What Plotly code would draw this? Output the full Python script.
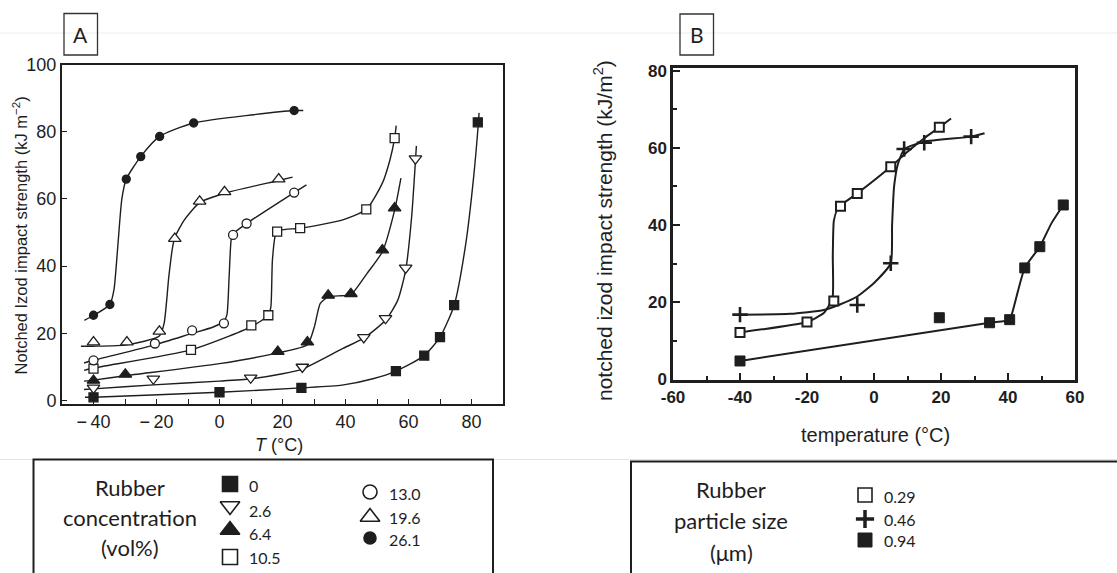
import plotly.graph_objects as go

W, H = 1117, 573

# ---------------- Panel A : rubber concentration (vol%) ----------------
A_labels = ["0", "2.6", "6.4", "10.5", "13.0", "19.6", "26.1"]

# measured points
A_x_00 = [-40, 0, 26, 56, 65, 70, 74.5, 82]
A_y_00 = [1.0, 2.5, 3.8, 8.8, 13.4, 18.9, 28.4, 82.8]
A_x_26 = [-40, -21, 9.9, 26.3, 45.8, 52.7, 59.1, 62.2]
A_y_26 = [3.8, 6.5, 6.8, 10.0, 18.8, 24.5, 39.5, 72.0]
A_x_64 = [-40, -29.9, 18.5, 27.9, 34.5, 41.7, 51.7, 55.6]
A_y_64 = [6.0, 7.8, 14.6, 17.4, 31.3, 31.8, 44.8, 57.3]
A_x_105 = [-40, -9.05, 10.1, 15.5, 18.3, 25.6, 46.6, 55.6]
A_y_105 = [9.5, 15.1, 22.4, 25.4, 50.3, 51.3, 56.9, 78.1]
A_x_130 = [-40, -20.5, -8.7, 1.4, 4.3, 8.6, 23.7]
A_y_130 = [12.0, 17.0, 20.9, 23.0, 49.3, 52.7, 61.9]
A_x_196 = [-40, -29.4, -19.1, -14.2, -6.3, 1.6, 18.8]
A_y_196 = [17.4, 17.4, 20.6, 48.2, 59.3, 62.1, 65.9]
A_x_261 = [-40, -34.8, -29.6, -25, -19, -8.2, 23.7]
A_y_261 = [25.4, 28.6, 65.9, 72.6, 78.6, 82.6, 86.3]

# hand-drawn guide curves
A_cx_00 = [-42.7, -40, 0, 26, 38.9, 48.7, 56, 65, 70, 74.5, 78.2, 80.7, 82.2, 82.4]
A_cy_00 = [1.0, 1.0, 2.5, 3.8, 4.6, 6.5, 8.8, 13.4, 18.9, 28.4, 46.8, 66.7, 82.8, 85.6]
A_cx_26 = [-43, -40, -21, 0, 10, 20, 26.3, 38.9, 45.8, 52.7, 56.6, 59.1, 61.0, 62.2, 62.5]
A_cy_26 = [3.3, 3.5, 4.7, 5.8, 6.5, 8.0, 9.4, 15.4, 18.6, 23.9, 29.9, 38.8, 54.7, 71.2, 75.8]
A_cx_64 = [-43, -40, -29.9, 0, 18.5, 27.9, 30.1, 32.0, 34.5, 38.9, 41.7, 46.8, 51.7, 55.6, 57.6]
A_cy_64 = [5.8, 6.1, 7.4, 11.0, 14.2, 16.6, 21.9, 28.9, 30.9, 31.2, 31.5, 37.8, 44.3, 56.7, 66.2]
A_cx_105 = [-43, -40, -9, 10.1, 15.5, 16.3, 16.8, 17.8, 19.3, 25.6, 38.9, 46.6, 51.7, 54.1, 55.6, 56.1]
A_cy_105 = [9.0, 9.7, 15.1, 22.0, 25.4, 27.9, 41.8, 49.3, 50.7, 51.3, 53.7, 56.9, 64.7, 71.6, 78.1, 81.8]
A_cx_130 = [-43, -40, -20.5, -8.7, -2, 1.4, 2.35, 3.05, 3.7, 4.3, 8.6, 23.7, 27.6]
A_cy_130 = [11.2, 12.0, 16.6, 20.0, 21.9, 23.6, 25.5, 36.8, 47.8, 49.6, 52.7, 61.9, 64.2]
A_cx_196 = [-44, -40, -29.4, -19.1, -17.6, -16.1, -15.0, -14.2, -11.2, -6.3, 1.6, 18.8, 23.2]
A_cy_196 = [16.2, 16.2, 16.6, 19.2, 22.9, 36.8, 45.0, 48.5, 53.7, 58.9, 61.7, 65.5, 66.5]
A_cx_261 = [-42.9, -39.9, -34.8, -33.5, -32.3, -31.0, -29.6, -25, -19, -8.2, 23.7, 26.6]
A_cy_261 = [23.9, 25.4, 28.6, 33.0, 45.8, 60.0, 65.9, 72.6, 78.6, 82.6, 86.3, 86.3]

A_xticks = [-40, -20, 0, 20, 40, 60, 80]
A_xticktext = ["\u2212\u200940", "\u2212\u200920", "0", "20", "40", "60", "80"]
A_yticks = [0, 20, 40, 60, 80, 100]

# ---------------- Panel B : rubber particle size (um) ----------------
B_labels = ["0.29", "0.46", "0.94"]

B_x_029 = [-40, -20, -12, -10, -5, 5, 19.5]
B_y_029 = [12.2, 14.9, 20.3, 44.9, 48.2, 55.1, 65.3]
B_x_046 = [-40, -5, 5, 9, 15, 29]
B_y_046 = [16.8, 19.3, 30.1, 59.7, 61.3, 62.9]
B_x_094 = [-40, 19.5, 34.5, 40.5, 45, 49.5, 56.5]
B_y_094 = [4.8, 16.0, 14.7, 15.5, 28.9, 34.4, 45.2]

B_cx_029 = [-40, -20, -15, -12.4, -12.3, -12.0, -11.0, -9.8, -5, 5, 10, 15, 19.5, 23]
B_cy_029 = [12.2, 14.9, 17.2, 21.0, 32.0, 41.0, 44.0, 45.2, 48.2, 55.1, 59.0, 62.5, 65.3, 67.6]
B_cx_046 = [-40, -25, -15, -10, -5, 0, 5, 5.4, 6.0, 7.2, 9.1, 15, 29, 33]
B_cy_046 = [16.8, 17.0, 18.0, 19.5, 21.5, 25.0, 30.1, 40.0, 50.0, 56.0, 59.7, 61.6, 62.9, 63.8]
B_cx_094 = [-40, 34.5, 40.5, 41.5, 45, 49.5, 53, 56.5]
B_cy_094 = [4.8, 14.7, 15.5, 18.0, 28.9, 34.4, 40.5, 45.2]

B_xticks = [-60, -40, -20, 0, 20, 40, 60]
B_xticktext = ["-60", "-40", "-20", "0", "20", "40", "60"]
B_yticks = [0, 20, 40, 60, 80]

# ---------------- styling ----------------
INK = "#1e1e1e"
def px(x):
    return x / W
def py(y):
    return 1 - y / H

fig = go.Figure()

A_series = [
    (A_x_00, A_y_00, A_cx_00, A_cy_00, "square", INK, 9),
    (A_x_26, A_y_26, A_cx_26, A_cy_26, "triangle-down", "white", 11),
    (A_x_64, A_y_64, A_cx_64, A_cy_64, "triangle-up", INK, 11),
    (A_x_105, A_y_105, A_cx_105, A_cy_105, "square", "white", 9),
    (A_x_130, A_y_130, A_cx_130, A_cy_130, "circle", "white", 9),
    (A_x_196, A_y_196, A_cx_196, A_cy_196, "triangle-up", "white", 11),
    (A_x_261, A_y_261, A_cx_261, A_cy_261, "circle", INK, 8),
]
for xs, ys, cx, cy, sym, fill, sz in A_series:
    fig.add_trace(go.Scatter(x=cx, y=cy, mode="lines", xaxis="x", yaxis="y",
                             line=dict(color=INK, width=1.4, shape="spline", smoothing=0.6),
                             hoverinfo="skip", showlegend=False))
for (xs, ys, cx, cy, sym, fill, sz), name in zip(A_series, A_labels):
    fig.add_trace(go.Scatter(x=xs, y=ys, mode="markers", xaxis="x", yaxis="y", name=name,
                             marker=dict(symbol=sym, size=sz, color=fill,
                                         line=dict(color=INK, width=1.3)),
                             showlegend=False))

B_series = [
    (B_x_029, B_y_029, B_cx_029, B_cy_029, "square", "white", 9, 2.0),
    (B_x_046, B_y_046, B_cx_046, B_cy_046, "cross-thin", INK, 11, 2.6),
    (B_x_094, B_y_094, B_cx_094, B_cy_094, "square", INK, 10, 1.0),
]
for xs, ys, cx, cy, sym, fill, sz, lw in B_series:
    fig.add_trace(go.Scatter(x=cx, y=cy, mode="lines", xaxis="x2", yaxis="y2",
                             line=dict(color=INK, width=2.0, shape="spline", smoothing=0.5),
                             hoverinfo="skip", showlegend=False))
for (xs, ys, cx, cy, sym, fill, sz, lw), name in zip(B_series, B_labels):
    fig.add_trace(go.Scatter(x=xs, y=ys, mode="markers", xaxis="x2", yaxis="y2", name=name,
                             marker=dict(symbol=sym, size=sz, color=fill,
                                         line=dict(color=INK, width=lw)),
                             showlegend=False))

# ---------------- legend boxes (symbols on a full-page overlay axis) ----------------
LA_sym_x = [230, 230, 230, 230, 370, 370, 370]
LA_sym_y = [484, 506, 530, 557, 492, 517, 538]
LA_sym = ["square", "triangle-down-open", "triangle-up", "square-open", "circle-open", "triangle-up-open", "circle"]
LA_size = [15, 17, 17, 15, 14, 17, 12]
LA_txt_x = [247, 247, 247, 247, 387, 387, 387]
LA_txt_y = [485, 510, 533, 557, 493, 517, 539]
for i in range(7):
    fig.add_trace(go.Scatter(x=[LA_sym_x[i]], y=[LA_sym_y[i]], mode="markers", xaxis="x3", yaxis="y3",
                             marker=dict(symbol=LA_sym[i], size=LA_size[i], color=INK,
                                         line=dict(color=INK, width=1.6)),
                             hoverinfo="skip", showlegend=False))

LB_sym_x = [865, 865, 865]
LB_sym_y = [495, 519, 540]
LB_sym = ["square-open", "cross-thin", "square"]
LB_size = [14, 13, 14]
LB_lw = [1.6, 3.5, 1]
LB_txt_x = [882, 882, 882]
LB_txt_y = [496, 519, 540]
for i in range(3):
    fig.add_trace(go.Scatter(x=[LB_sym_x[i]], y=[LB_sym_y[i]], mode="markers", xaxis="x3", yaxis="y3",
                             marker=dict(symbol=LB_sym[i], size=LB_size[i], color=INK,
                                         line=dict(color=INK, width=LB_lw[i])),
                             hoverinfo="skip", showlegend=False))

annotations = []
LEG_FONT = dict(family="Lato, Open Sans, sans-serif", size=16, color=INK)
for i, lab in enumerate(A_labels):
    annotations.append(dict(x=px(LA_txt_x[i]), y=py(LA_txt_y[i]), xref="paper", yref="paper",
                            text=lab, showarrow=False, xanchor="left", yanchor="middle", font=LEG_FONT))
for i, lab in enumerate(B_labels):
    annotations.append(dict(x=px(LB_txt_x[i]), y=py(LB_txt_y[i]), xref="paper", yref="paper",
                            text=lab, showarrow=False, xanchor="left", yanchor="middle", font=LEG_FONT))

BIG = dict(family="Lato, Open Sans, sans-serif", size=22, color=INK)
for t, yy in zip(["Rubber", "concentration", "(vol%)"], [487, 517, 547]):
    annotations.append(dict(x=px(130), y=py(yy), xref="paper", yref="paper", text=t,
                            showarrow=False, xanchor="center", yanchor="middle", font=BIG))
for t, yy in zip(["Rubber", "particle size", "(μm)"], [489, 520, 552]):
    annotations.append(dict(x=px(731), y=py(yy), xref="paper", yref="paper", text=t,
                            showarrow=False, xanchor="center", yanchor="middle", font=BIG))

# panel letters
annotations.append(dict(x=px(80.5), y=py(34.5), xref="paper", yref="paper", text="A", showarrow=False,
                        xanchor="center", yanchor="middle", font=dict(family="Lato, sans-serif", size=21, color=INK)))
annotations.append(dict(x=px(696.5), y=py(35), xref="paper", yref="paper", text="B", showarrow=False,
                        xanchor="center", yanchor="middle", font=dict(family="Lato, sans-serif", size=21, color=INK)))

# axis titles
AF = "Liberation Sans, Arial, sans-serif"
annotations.append(dict(x=px(20.5), y=py(236), xref="paper", yref="paper",
                        text="Notched Izod impact strength (kJ m<sup>−2</sup>)", textangle=-90,
                        showarrow=False, xanchor="center", yanchor="middle",
                        font=dict(family=AF, size=16.5, color=INK)))
annotations.append(dict(x=px(279), y=py(445), xref="paper", yref="paper",
                        text="<i>T</i> (°C)", showarrow=False, xanchor="center", yanchor="middle",
                        font=dict(family=AF, size=18, color=INK)))
annotations.append(dict(x=px(603), y=py(231), xref="paper", yref="paper",
                        text="notched izod impact strength (kJ/m<sup>2</sup>)", textangle=-90,
                        showarrow=False, xanchor="center", yanchor="middle",
                        font=dict(family=AF, size=21, color=INK)))
annotations.append(dict(x=px(875), y=py(435), xref="paper", yref="paper",
                        text="temperature (°C)", showarrow=False, xanchor="center", yanchor="middle",
                        font=dict(family=AF, size=20, color=INK)))

shapes = [
    # faint scan borders
    dict(type="line", xref="paper", yref="paper", x0=0, x1=1, y0=py(33), y1=py(33),
         line=dict(color="#ececec", width=1)),
    dict(type="line", xref="paper", yref="paper", x0=0, x1=1, y0=py(459.5), y1=py(459.5),
         line=dict(color="#e4e4e4", width=1)),
    # legend boxes
    dict(type="rect", xref="paper", yref="paper", x0=px(33.5), x1=px(493), y0=py(459.5), y1=py(600),
         line=dict(color=INK, width=2)),
    dict(type="rect", xref="paper", yref="paper", x0=px(631), x1=px(1140), y0=py(461.5), y1=py(600),
         line=dict(color=INK, width=2)),
    # panel letter boxes
    dict(type="rect", xref="paper", yref="paper", x0=px(64), x1=px(97.5), y0=py(13.5), y1=py(55),
         line=dict(color="#333", width=1.3)),
    dict(type="rect", xref="paper", yref="paper", x0=px(680), x1=px(713.5), y0=py(14), y1=py(55),
         line=dict(color="#333", width=1.3)),
]

fig.update_layout(
    width=W, height=H, margin=dict(l=0, r=0, t=0, b=0),
    paper_bgcolor="white", plot_bgcolor="rgba(0,0,0,0)",
    showlegend=False, annotations=annotations, shapes=shapes,
    xaxis=dict(domain=[px(62), px(503)], range=[-50, 90], anchor="y",
               tickmode="array", tickvals=A_xticks, ticktext=A_xticktext, ticks="inside", ticklen=5,
               tickwidth=1.3, tickcolor=INK,
               minor=dict(dtick=10, tick0=0, ticks="inside", ticklen=5, tickwidth=1.3, tickcolor=INK),
               showline=True, linecolor=INK, linewidth=2, mirror=True, showgrid=False, zeroline=False,
               tickfont=dict(family=AF, size=18, color=INK), automargin=False),
    yaxis=dict(domain=[py(404), py(64.5)], range=[-1, 100], anchor="x",
               tickmode="array", tickvals=A_yticks, ticks="inside", ticklen=5, tickwidth=1.3, tickcolor=INK,
               showline=True, linecolor=INK, linewidth=2, mirror=True, showgrid=False, zeroline=False,
               tickfont=dict(family=AF, size=18, color=INK), automargin=False),
    xaxis2=dict(domain=[px(673), px(1075)], range=[-60, 60], anchor="y2",
                tickmode="array", tickvals=B_xticks, ticktext=B_xticktext, ticks="inside", ticklen=7,
                tickwidth=2, tickcolor=INK,
                minor=dict(dtick=10, tick0=0, ticks="inside", ticklen=4, tickwidth=2, tickcolor=INK),
                showline=True, linecolor=INK, linewidth=2.5, mirror=True, showgrid=False, zeroline=False,
                tickfont=dict(family=AF, size=17, color=INK, weight="bold"), automargin=False),
    yaxis2=dict(domain=[py(379.5), py(68.3)], range=[0, 80.6], anchor="x2",
                tickmode="array", tickvals=B_yticks, ticks="inside", ticklen=7, tickwidth=2, tickcolor=INK,
                minor=dict(dtick=10, tick0=0, ticks="inside", ticklen=4, tickwidth=2, tickcolor=INK),
                showline=True, linecolor=INK, linewidth=2.5, mirror=True, showgrid=False, zeroline=False,
                tickfont=dict(family=AF, size=17, color=INK, weight="bold"), automargin=False),
    xaxis3=dict(domain=[0, 1], range=[0, W], anchor="y3", visible=False, fixedrange=True),
    yaxis3=dict(domain=[0, 1], range=[H, 0], anchor="x3", visible=False, fixedrange=True),
)

fig.write_html("out.html")
